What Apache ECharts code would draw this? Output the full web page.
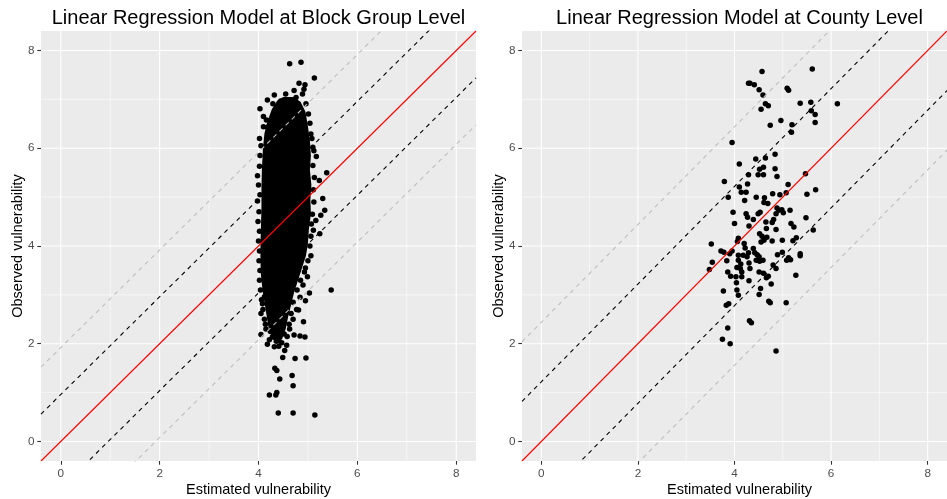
<!DOCTYPE html>
<html><head><meta charset="utf-8">
<script src="https://cdn.jsdelivr.net/npm/echarts@6/dist/echarts.min.js"></script>
<style>html,body{margin:0;padding:0;background:#fff}#c{width:947px;height:499px}</style>
</head><body><div id="c"></div>
<script>
// ---- data ----
const axisMin = -0.4, axisMax = 8.4;
const majorTicks = [0, 2, 4, 6, 8];
const minorTicks = [1, 3, 5, 7];
const tickLabels = ['0', '2', '4', '6', '8'];
const panelTitles = ['Linear Regression Model at Block Group Level', 'Linear Regression Model at County Level'];
const xTitle = 'Estimated vulnerability';
const yTitle = 'Observed vulnerability';
// offsets of the dashed bands around y = x
const blockBands = [0.96, 1.92];
const countyBands = [1.22, 2.44];

// dense core of the block-group cloud (outline, data units)
const blockCoreOutline = [
  [4.50,7.05],[4.70,7.05],[4.85,6.95],[4.95,6.75],[5.00,6.45],[5.04,6.15],[5.06,5.85],[5.04,5.55],
  [5.07,5.25],[5.05,4.95],[5.06,4.65],[5.02,4.35],[5.00,4.05],[4.96,3.80],[4.88,3.55],[4.80,3.30],
  [4.72,3.05],[4.66,2.80],[4.60,2.55],[4.55,2.30],[4.48,2.10],[4.40,2.00],[4.28,2.10],[4.20,2.35],
  [4.16,2.60],[4.12,2.85],[4.08,3.10],[4.05,3.40],[4.04,3.70],[4.04,4.00],[4.05,4.40],[4.06,4.80],
  [4.06,5.20],[4.07,5.60],[4.09,6.00],[4.12,6.30],[4.18,6.55],[4.27,6.80],[4.38,6.98]
];
// individual block-group points around the core
const blockPoints = [
  [4.63,7.73],[4.86,7.76],[5.13,7.44],[4.82,7.33],[4.94,7.30],[4.92,7.21],[4.32,7.09],[4.18,6.99],
  [4.03,6.81],[4.10,6.65],[4.16,6.58],[4.10,6.44],[5.04,6.51],[5.17,5.83],[5.38,5.50],[5.23,5.34],
  [5.30,4.97],[5.34,4.73],[5.16,4.52],[5.26,4.63],[5.11,4.32],[5.24,4.25],[3.98,5.44],[4.02,5.63],
  [3.98,4.92],[5.06,3.80],[5.47,3.10],[5.03,3.04],[4.95,2.88],[4.91,2.45],[4.72,2.18],[4.84,2.16],
  [4.94,2.14],[4.05,2.19],[4.53,1.86],[4.49,1.72],[4.74,1.70],[4.96,1.71],[4.33,1.50],[4.37,1.45],
  [4.43,1.28],[4.68,1.35],[4.70,1.14],[4.22,0.95],[4.35,0.95],[4.37,1.00],[4.40,0.58],[4.70,0.58],
  [5.14,0.54],[4.32,1.94],[4.41,1.95],[4.57,1.97],[4.18,1.99],[4.22,2.08],[4.28,2.14],[4.81,2.69],
  [4.05,2.62],[4.08,2.82],[4.12,2.96],[4.99,3.37],[4.93,3.47],[4.55,7.11],[4.72,7.18],[4.76,7.04],
  [4.89,7.11],[4.45,6.97],[4.29,6.91],[4.35,6.73],[4.25,6.57],[4.18,6.43],[4.96,6.91],[5.01,6.70],
  [5.06,6.29],[5.10,6.02],[4.62,2.40],[4.66,2.62],[4.70,2.85],[4.78,3.10],[4.85,3.30],[4.14,2.40],
  [4.02,6.20],[4.05,6.05],[4.03,5.85],[4.00,5.25],[4.03,5.05],[4.01,4.70],[3.99,4.50],[4.02,4.30],
  [4.00,4.10],[4.02,3.90],[4.01,3.70],[4.03,3.50],[4.02,3.30],[4.04,3.10],[4.06,2.90],[4.09,2.70],
  [4.12,2.50],[4.15,2.30],[5.08,6.20],[5.12,5.95],[5.10,5.65],[5.13,5.40],[5.11,5.15],[5.12,4.90],
  [5.09,4.65],[5.07,4.45],[5.06,4.20],[5.04,4.00],[5.00,3.70],[4.95,3.55],[4.90,3.20],[4.84,2.95],
  [4.77,2.70],[4.70,2.50],[4.63,2.30],[4.58,2.15],[4.24,2.25],[4.36,2.05],[4.47,2.02],[4.52,2.20]
];
// county points
const countyPoints = [
  [4.57,7.57],[5.61,7.62],[4.29,7.33],[4.32,7.33],[4.41,7.30],[4.51,7.20],[4.59,7.09],[5.09,7.23],
  [5.12,7.19],[4.64,6.91],[4.70,6.87],[4.55,6.80],[5.36,6.92],[5.58,6.94],[6.13,6.91],[5.59,6.77],
  [5.67,6.69],[5.67,6.53],[4.96,6.57],[4.74,6.47],[5.19,6.48],[5.18,6.33],[3.95,6.12],[4.84,5.88],
  [4.44,5.78],[4.64,5.80],[4.10,5.68],[4.60,5.61],[4.52,5.57],[4.84,5.58],[4.60,5.46],[4.49,5.46],
  [4.29,5.46],[4.88,5.42],[5.47,5.48],[3.79,5.32],[4.27,5.27],[4.10,5.21],[4.14,5.10],[4.24,5.10],
  [3.87,5.00],[5.11,5.26],[5.68,5.15],[5.50,5.06],[4.45,5.00],[4.79,5.07],[4.94,5.05],[5.07,5.09],
  [4.62,4.99],[4.61,4.89],[4.69,4.87],[4.21,4.93],[4.88,4.78],[4.92,4.73],[4.98,4.74],[5.01,4.68],
  [4.86,4.66],[5.15,4.73],[3.97,4.69],[4.24,4.66],[4.27,4.59],[4.49,4.66],[4.53,4.69],[4.39,4.54],
  [4.65,4.49],[4.78,4.48],[4.81,4.54],[4.00,4.46],[4.30,4.41],[4.86,4.34],[5.17,4.46],[5.23,4.39],
  [5.63,4.33],[4.66,4.36],[4.52,4.25],[4.57,4.20],[4.67,4.18],[4.61,4.12],[4.55,4.08],[4.78,4.10],
  [4.99,4.12],[4.08,4.16],[4.06,4.09],[4.20,4.05],[4.22,3.96],[5.21,4.11],[5.28,4.17],[3.52,4.04],
  [3.72,3.90],[3.78,3.87],[3.90,3.84],[3.95,3.90],[3.84,3.70],[3.54,3.67],[4.39,3.95],[4.42,3.86],
  [4.47,3.82],[4.51,3.78],[4.45,3.71],[4.52,3.69],[4.59,3.71],[4.29,3.86],[4.26,3.78],[4.18,3.81],
  [4.08,3.81],[4.08,3.71],[4.13,3.63],[4.05,3.56],[4.12,3.54],[4.30,3.65],[4.32,3.54],[4.99,3.87],
  [4.89,3.82],[5.12,3.76],[5.16,3.72],[5.08,3.71],[5.36,3.84],[5.36,3.80],[4.80,3.61],[4.86,3.54],
  [3.48,3.52],[3.86,3.47],[3.92,3.38],[4.03,3.37],[4.15,3.37],[4.04,3.25],[4.15,3.47],[4.51,3.47],
  [4.60,3.44],[4.70,3.38],[4.66,3.35],[4.30,3.29],[5.27,3.40],[4.76,3.22],[4.54,3.13],[4.51,3.01],
  [3.77,3.08],[4.05,3.10],[4.08,2.99],[3.83,2.79],[3.88,2.82],[4.71,2.87],[4.74,2.84],[5.07,2.84],
  [4.31,2.47],[4.35,2.43],[3.86,2.32],[3.75,2.09],[3.91,2.00],[4.86,1.85],[5.48,4.58]
];

// ---- chart ----
const FONT = 'Liberation Sans, Arial, sans-serif';
const panels = [
  {left: 41, top: 31, width: 435, height: 430},
  {left: 522, top: 31, width: 435, height: 430}
];

function makeAxis(i) {
  return {
    gridIndex: i, type: 'value', min: axisMin, max: axisMax,
    splitLine: {show: false},
    axisLine: {show: true, onZero: false, lineStyle: {color: 'rgba(0,0,0,0)'}},
    axisTick: {show: true, customValues: majorTicks, length: 3.7, lineStyle: {color: '#333333', width: 1.1}},
    axisLabel: {customValues: majorTicks, margin: 6.6, color: '#4D4D4D', fontSize: 11.7, fontFamily: FONT,
      formatter: v => { const k = majorTicks.indexOf(v); return k >= 0 ? tickLabels[k] : ''; }}
  };
}
function gridLines(i) {
  const data = majorTicks.map(v => [v, 1]).concat(minorTicks.map(v => [v, 0]));
  return {
    type: 'custom', xAxisIndex: i, yAxisIndex: i, z: 1, silent: true, animation: false, data,
    renderItem(params, api) {
      const v = api.value(0), major = api.value(1);
      const a = api.coord([v, axisMin]), b = api.coord([v, axisMax]);
      const c = api.coord([axisMin, v]), d = api.coord([axisMax, v]);
      const style = {stroke: '#FFFFFF', lineWidth: major ? 1.1 : 0.55};
      return {type: 'group', children: [
        {type: 'line', shape: {x1: a[0], y1: a[1], x2: b[0], y2: b[1]}, style},
        {type: 'line', shape: {x1: c[0], y1: c[1], x2: d[0], y2: d[1]}, style}
      ]};
    }
  };
}
function refLine(i, c, color, dashed) {
  return {
    type: 'line', xAxisIndex: i, yAxisIndex: i, z: 6, silent: true, animation: false,
    symbol: 'none', clip: true,
    data: [[axisMin, axisMin + c], [axisMax, axisMax + c]],
    lineStyle: {color, width: 1.1, type: dashed ? [4.3, 4.3] : 'solid'}
  };
}
function bandLines(i, bands) {
  return [
    refLine(i, bands[1], '#BEBEBE', true), refLine(i, -bands[1], '#BEBEBE', true),
    refLine(i, bands[0], '#000000', true), refLine(i, -bands[0], '#000000', true),
    refLine(i, 0, '#FF0000', false)
  ];
}
function scatter(i, data) {
  return {type: 'scatter', xAxisIndex: i, yAxisIndex: i, z: 4, silent: true, animation: false,
    symbol: 'circle', symbolSize: 5.5, itemStyle: {color: '#000000', opacity: 1}, data};
}

const graphics = [];
panels.forEach((p, i) => {
  const cx = p.left + p.width / 2;
  graphics.push({type: 'text', x: cx, y: 18, style: {text: panelTitles[i], fontSize: 20, fontFamily: FONT, fill: '#000', align: 'center', verticalAlign: 'middle'}});
  graphics.push({type: 'text', x: cx, y: 490, style: {text: xTitle, fontSize: 14.5, fontFamily: FONT, fill: '#000', align: 'center', verticalAlign: 'middle'}});
  graphics.push({type: 'text', x: p.left - 23.5, y: p.top + p.height / 2, rotation: Math.PI / 2,
    style: {text: yTitle, fontSize: 14.5, fontFamily: FONT, fill: '#000', align: 'center', verticalAlign: 'middle'}});
});

const chart = echarts.init(document.getElementById('c'), null, {renderer: 'canvas'});
chart.setOption({
  backgroundColor: '#FFFFFF',
  animation: false,
  grid: panels.map(p => Object.assign({show: true, backgroundColor: '#EBEBEB', borderWidth: 0, containLabel: false}, p)),
  xAxis: [makeAxis(0), makeAxis(1)],
  yAxis: [makeAxis(0), makeAxis(1)],
  graphic: graphics,
  series: [
    gridLines(0), gridLines(1),
    {type: 'custom', xAxisIndex: 0, yAxisIndex: 0, z: 3, silent: true, animation: false, data: [[4.5, 4.5]],
      renderItem(params, api) {
        return {type: 'polygon', shape: {points: blockCoreOutline.map(pt => api.coord(pt))}, style: {fill: '#000000'}};
      }},
    scatter(0, blockPoints),
    scatter(1, countyPoints),
    ...bandLines(0, blockBands),
    ...bandLines(1, countyBands)
  ]
});
</script></body></html>
